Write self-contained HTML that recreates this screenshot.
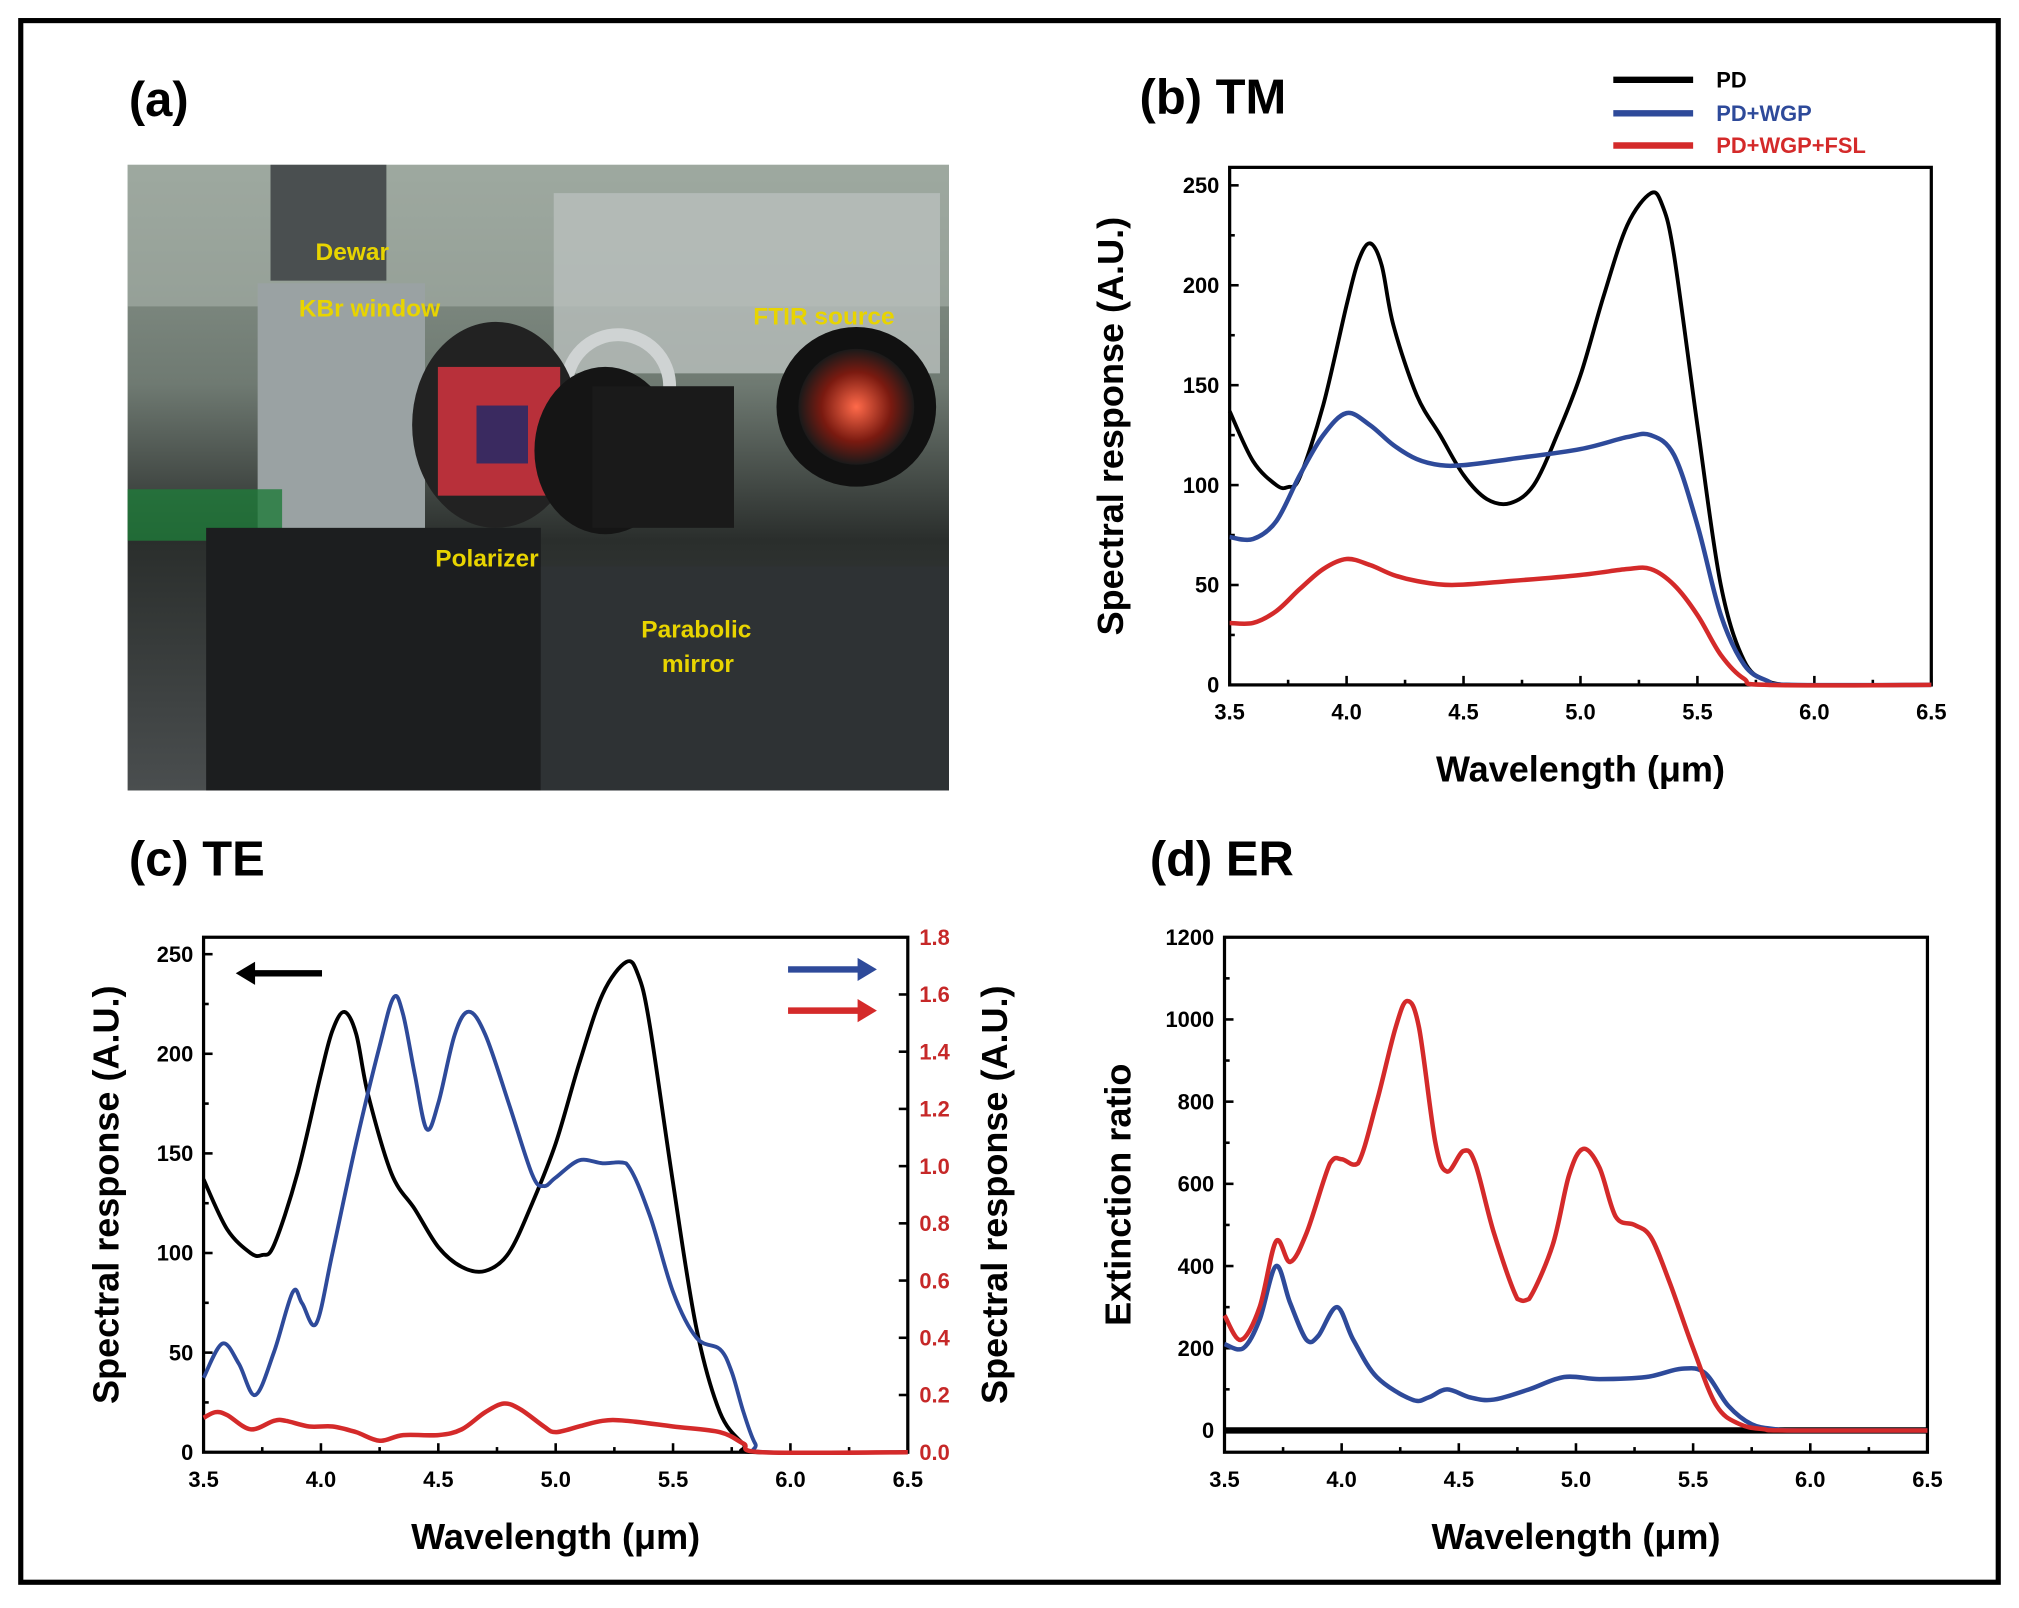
<!DOCTYPE html>
<html><head><meta charset="utf-8"><style>
html,body{margin:0;padding:0;background:#fff}
svg{display:block}
text{font-family:"Liberation Sans",Arial,sans-serif}
</style></head><body>
<svg id="fig" width="2019" height="1608" viewBox="0 0 1568 1249" xmlns="http://www.w3.org/2000/svg">
<defs>
<linearGradient id="photoBg" x1="0" y1="0" x2="0" y2="1">
<stop offset="0" stop-color="#8e9a90"/><stop offset="0.35" stop-color="#6f7a72"/><stop offset="0.6" stop-color="#2a2e2c"/><stop offset="1" stop-color="#4a4e4f"/></linearGradient>
<radialGradient id="ftirG"><stop offset="0" stop-color="#ff6a4a"/><stop offset="0.6" stop-color="#7a1a10"/><stop offset="1" stop-color="#1a1a1a"/></radialGradient>
</defs>
<rect x="16" y="16" width="1536" height="1213" fill="#fff" stroke="#000" stroke-width="4"/>

<!-- (a) photo -->
<text x="100" y="90" font-size="38" font-weight="bold">(a)</text>
<g>
<rect x="99" y="128" width="638" height="486" fill="url(#photoBg)"/>
<rect x="99" y="128" width="638" height="110" fill="#a9b2aa" opacity="0.6"/>
<rect x="430" y="150" width="300" height="140" fill="#b9bfbd" opacity="0.8"/>
<rect x="210" y="128" width="90" height="90" fill="#4a4f50"/>
<rect x="200" y="220" width="130" height="200" fill="#9aa2a3"/>
<rect x="99" y="380" width="120" height="40" fill="#1f7a3a" opacity="0.8"/>
<rect x="160" y="410" width="260" height="204" fill="#1c1e1f"/>
<rect x="420" y="440" width="317" height="174" fill="#2e3234"/>
<circle cx="480" cy="300" r="40" fill="none" stroke="#cfd3d3" stroke-width="10"/>
<circle cx="665" cy="316" r="62" fill="#111"/>
<circle cx="665" cy="316" r="45" fill="url(#ftirG)"/>
<ellipse cx="385" cy="330" rx="65" ry="80" fill="#222"/>
<rect x="340" y="285" width="95" height="100" fill="#b8303a"/>
<rect x="370" y="315" width="40" height="45" fill="#3a2a60"/>
<ellipse cx="470" cy="350" rx="55" ry="65" fill="#151515"/>
<rect x="460" y="300" width="110" height="110" fill="#1a1a1a"/>
<text x="245" y="202" font-size="19" font-weight="bold" fill="#e8d400">Dewar</text>
<text x="232" y="246" font-size="19" font-weight="bold" fill="#e8d400">KBr window</text>
<text x="585" y="252" font-size="19" font-weight="bold" fill="#e8d400">FTIR source</text>
<text x="338" y="440" font-size="19" font-weight="bold" fill="#e8d400">Polarizer</text>
<text x="498" y="495" font-size="19" font-weight="bold" fill="#e8d400">Parabolic</text>
<text x="514" y="522" font-size="19" font-weight="bold" fill="#e8d400">mirror</text>
</g>

<text x="885" y="88" font-size="38" font-weight="bold">(b) TM</text>
<g>
<g><line x1="1253" y1="62" x2="1315" y2="62" stroke="#000" stroke-width="5"/><text x="1333" y="68" font-size="17" font-weight="bold">PD</text></g>
<g><line x1="1253" y1="88" x2="1315" y2="88" stroke="#2e4a9a" stroke-width="5"/><text x="1333" y="94" font-size="17" font-weight="bold" fill="#2e4a9a">PD+WGP</text></g>
<g><line x1="1253" y1="113" x2="1315" y2="113" stroke="#d42a2a" stroke-width="5"/><text x="1333" y="119" font-size="17" font-weight="bold" fill="#d42a2a">PD+WGP+FSL</text></g>
</g>
<g id="chartB"></g>

<text x="100" y="680" font-size="38" font-weight="bold">(c) TE</text>
<g id="chartC"></g>
<g><line x1="250" y1="756" x2="195" y2="756" stroke="#000" stroke-width="5"/><polygon points="183,756 198,747 198,765" fill="#000"/></g>
<g><line x1="612" y1="753" x2="668" y2="753" stroke="#2e4a9a" stroke-width="5"/><polygon points="681,753 666,744 666,762" fill="#2e4a9a"/></g>
<g><line x1="612" y1="785" x2="668" y2="785" stroke="#d42a2a" stroke-width="5"/><polygon points="681,785 666,776 666,794" fill="#d42a2a"/></g>

<text x="893" y="680" font-size="38" font-weight="bold">(d) ER</text>
<g id="chartD"></g>
</svg>
<script>
// ---- Data (b) TM ----
const tmPdX = [3.5,3.6,3.7,3.75,3.8,3.9,4.0,4.05,4.1,4.15,4.2,4.3,4.4,4.5,4.6,4.7,4.8,4.9,5.0,5.1,5.2,5.3,5.35,5.4,5.5,5.6,5.7,5.8,5.9,6.0,6.5];
const tmPdY = [137,112,100,99,104,140,190,212,221,210,180,145,125,105,93,91,100,125,155,195,230,246,240,215,130,50,12,2,0,0,0];
const tmWgpX = [3.5,3.6,3.7,3.8,3.9,4.0,4.1,4.2,4.3,4.4,4.5,4.7,5.0,5.2,5.3,5.4,5.5,5.6,5.7,5.8,5.9,6.5];
const tmWgpY = [74,73,82,105,125,136,130,120,113,110,110,113,118,124,125,115,80,35,10,2,0,0];
const tmFslX = [3.5,3.6,3.7,3.8,3.9,4.0,4.1,4.2,4.3,4.45,4.7,5.0,5.2,5.3,5.4,5.5,5.6,5.7,5.8,6.5];
const tmFslY = [31,31,37,48,58,63,60,55,52,50,52,55,58,58,50,35,15,3,0,0];
// ---- Data (c) TE ----
const tePdX = [3.5,3.6,3.7,3.75,3.8,3.9,4.0,4.05,4.1,4.15,4.2,4.3,4.4,4.5,4.6,4.7,4.8,4.9,5.0,5.1,5.2,5.3,5.35,5.4,5.5,5.6,5.7,5.8,5.85,6.5];
const tePdY = [137,112,100,99,104,140,190,212,221,210,180,140,122,103,93,91,100,125,155,195,230,246,240,215,135,62,20,4,0,0];
const teWgpX = [3.5,3.58,3.65,3.72,3.8,3.88,3.92,3.98,4.05,4.15,4.25,4.31,4.35,4.4,4.45,4.5,4.57,4.63,4.7,4.8,4.9,4.95,5.0,5.1,5.2,5.3,5.4,5.5,5.6,5.7,5.75,5.8,5.85,5.9,6.5];
const teWgpY = [0.26,0.38,0.31,0.20,0.35,0.56,0.52,0.45,0.70,1.08,1.42,1.59,1.53,1.32,1.13,1.22,1.46,1.54,1.46,1.22,0.97,0.93,0.96,1.02,1.01,1.01,0.83,0.56,0.40,0.36,0.28,0.14,0.03,0,0];
const teFslX = [3.5,3.55,3.6,3.7,3.8,3.85,3.95,4.05,4.15,4.25,4.35,4.5,4.6,4.7,4.78,4.85,4.95,5.0,5.1,5.2,5.3,5.5,5.7,5.8,5.88,6.5];
const teFslY = [0.12,0.14,0.13,0.08,0.11,0.11,0.09,0.09,0.07,0.04,0.06,0.06,0.08,0.14,0.17,0.15,0.09,0.07,0.09,0.11,0.11,0.09,0.07,0.03,0,0];
// ---- Data (d) ER ----
const erFslX = [3.5,3.57,3.65,3.72,3.78,3.85,3.95,4.0,4.07,4.15,4.23,4.28,4.33,4.4,4.45,4.52,4.57,4.65,4.75,4.8,4.9,4.97,5.03,5.1,5.17,5.25,5.32,5.4,5.5,5.6,5.7,5.8,5.9,6.5];
const erFslY = [280,220,300,460,410,480,650,660,650,800,980,1045,980,700,630,680,650,480,320,320,450,620,685,640,520,500,470,360,200,60,15,3,0,0];
const erWgpX = [3.5,3.58,3.65,3.72,3.78,3.85,3.9,3.98,4.05,4.15,4.3,4.37,4.45,4.55,4.65,4.8,4.95,5.1,5.3,5.45,5.55,5.65,5.75,5.85,5.95,6.5];
const erWgpY = [210,200,270,400,310,220,230,300,220,130,75,80,100,80,75,100,130,125,130,150,140,60,15,3,0,0];
const erPdX = [3.5,6.5];
const erPdY = [0,0];
// ---- Ticks ----
const xTicks = ["3.5","4.0","4.5","5.0","5.5","6.0","6.5"];
const tmYTicks = ["0","50","100","150","200","250"];
const teRightTicks = ["0.0","0.2","0.4","0.6","0.8","1.0","1.2","1.4","1.6","1.8"];
const erYTicks = ["0","200","400","600","800","1000","1200"];

const NS="http://www.w3.org/2000/svg";
function mk(parent,tag,attrs){const e=document.createElementNS(NS,tag);for(const k in attrs)e.setAttribute(k,attrs[k]);parent.appendChild(e);return e;}
function smoothPath(pts){
  let d="M"+pts[0][0].toFixed(1)+","+pts[0][1].toFixed(1);
  for(let i=0;i<pts.length-1;i++){
    const p0=pts[i-1]||pts[i],p1=pts[i],p2=pts[i+1],p3=pts[i+2]||p2;
    const t=6;
    let c1y=p1[1]+(p2[1]-p0[1])/t, c2y=p2[1]-(p3[1]-p1[1])/t;
    const lo=Math.min(p1[1],p2[1]),hi=Math.max(p1[1],p2[1]);
    const ex=(hi-lo)*0.5+2;
    c1y=Math.max(lo-ex,Math.min(hi+ex,c1y));c2y=Math.max(lo-ex,Math.min(hi+ex,c2y));
    d+=" C"+(p1[0]+(p2[0]-p0[0])/t).toFixed(1)+","+c1y.toFixed(1)+" "+(p2[0]-(p3[0]-p1[0])/t).toFixed(1)+","+c2y.toFixed(1)+" "+p2[0].toFixed(1)+","+p2[1].toFixed(1);
  }
  return d;
}
function axes(g,o){
  const xs=v=>o.x0+(v-3.5)/3*(o.x1-o.x0);
  const ys=v=>o.y0-(v-o.ymin)/(o.ymax-o.ymin)*(o.y0-o.yTop);
  const box=mk(g,"rect",{x:o.x0,y:o.yTop,width:o.x1-o.x0,height:o.y0-o.yTop,fill:"none",stroke:"#000","stroke-width":2.5});
  
  
  for(let i=0;i<=12;i++){
    const x=o.x0+i/12*(o.x1-o.x0);
    mk(g,"line",{x1:x,y1:o.y0,x2:x,y2:o.y0-(i%2?4:7),stroke:"#000","stroke-width":2});
  }
  xTicks.forEach((t,i)=>{
    const tx=mk(g,"text",{x:xs(parseFloat(t)),y:o.y0+27,"font-size":17,"font-weight":"bold","text-anchor":"middle"});
    tx.textContent=t;
    
    
  });
  o.yTicks.forEach((t,i)=>{
    const v=parseFloat(t),y=ys(v);
    mk(g,"line",{x1:o.x0,y1:y,x2:o.x0+7,y2:y,stroke:"#000","stroke-width":2});
    if(i<o.yTicks.length-1){const ym=ys(v+o.ystep/2);mk(g,"line",{x1:o.x0,y1:ym,x2:o.x0+4,y2:ym,stroke:"#000","stroke-width":2});}
    const tx=mk(g,"text",{x:o.x0-8,y:y+6,"font-size":17,"font-weight":"bold","text-anchor":"end"});
    tx.textContent=t;
    
    
  });
  const xt=mk(g,"text",{x:(o.x0+o.x1)/2,y:o.y0+75,"font-size":28,"font-weight":"bold","text-anchor":"middle"});
  xt.textContent="Wavelength (μm)";
  
  
  const yt=mk(g,"text",{transform:"translate("+o.ytx+","+((o.yTop+o.y0)/2)+") rotate(-90)","font-size":28,"font-weight":"bold","text-anchor":"middle"});
  yt.textContent=o.ytitle;
  
  
  return {xs,ys};
}
function series(g,X,Y,xs,ys,color,w,name){
  const p=mk(g,"path",{d:smoothPath(X.map((x,i)=>[xs(x),ys(Y[i])])),fill:"none",stroke:color,"stroke-width":w,"stroke-linejoin":"round"});
  
  
}
const BLK="#000",BLU="#2e4a9a",RED="#d42a2a";
// (b)
{const g=document.getElementById("chartB");
 const a=axes(g,{x0:955,x1:1500,y0:532,yTop:130,ymin:0,ymax:259,yTicks:tmYTicks,ystep:50,ytitle:"Spectral response (A.U.)",ytx:872});
 series(g,tmPdX,tmPdY,a.xs,a.ys,BLK,3,"series-pd");
 series(g,tmWgpX,tmWgpY,a.xs,a.ys,BLU,3.5,"series-pd-wgp");
 series(g,tmFslX,tmFslY,a.xs,a.ys,RED,3.5,"series-pd-wgp-fsl");}
// (c)
{const g=document.getElementById("chartC");
 const o={x0:158,x1:705,y0:1128,yTop:728,ymin:0,ymax:258.5,yTicks:tmYTicks,ystep:50,ytitle:"Spectral response (A.U.)",ytx:92};
 const a=axes(g,o);
 const yr=v=>o.y0-v/1.8*(o.y0-o.yTop);
 teRightTicks.forEach((t,i)=>{
   const y=yr(parseFloat(t));
   mk(g,"line",{x1:o.x1,y1:y,x2:o.x1-7,y2:y,stroke:"#000","stroke-width":2});
   const tx=mk(g,"text",{x:o.x1+9,y:y+6,"font-size":17,"font-weight":"bold",fill:"#c62828"});
   tx.textContent=t;
   
   
 });
 const rt=mk(g,"text",{transform:"translate(782,"+((o.yTop+o.y0)/2)+") rotate(-90)","font-size":28,"font-weight":"bold","text-anchor":"middle"});
 rt.textContent="Spectral response (A.U.)";
 
 
 series(g,tePdX,tePdY,a.xs,a.ys,BLK,3,"series-pd");
 series(g,teWgpX,teWgpY,a.xs,yr,BLU,3,"series-pd-wgp");
 series(g,teFslX,teFslY,a.xs,yr,RED,3.5,"series-pd-wgp-fsl");}
// (d)
{const g=document.getElementById("chartD");
 const a=axes(g,{x0:951,x1:1497,y0:1128,yTop:728,ymin:-53,ymax:1200,yTicks:erYTicks,ystep:200,ytitle:"Extinction ratio",ytx:878});
 series(g,erPdX,erPdY,a.xs,a.ys,BLK,5,"series-pd");
 series(g,erWgpX,erWgpY,a.xs,a.ys,BLU,3.5,"series-pd-wgp");
 series(g,erFslX,erFslY,a.xs,a.ys,RED,3.5,"series-pd-wgp-fsl");}
</script>
</body></html>
